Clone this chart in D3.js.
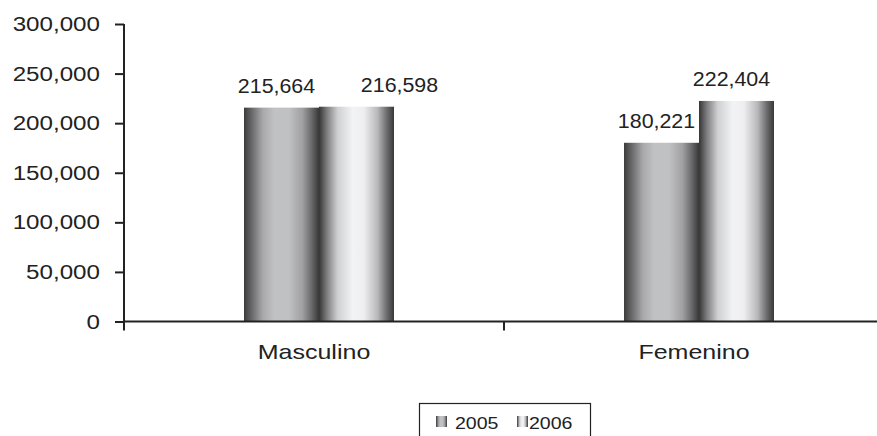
<!DOCTYPE html>
<html>
<head>
<meta charset="utf-8">
<script src="https://cdn.jsdelivr.net/npm/d3@7"></script>
<style>
  html, body { margin: 0; padding: 0; background: #fff; }
  svg { display: block; }
  text { font-family: "Liberation Sans", Arial, sans-serif; fill: #222; }
</style>
</head>
<body>
<svg id="chart" width="877" height="436"></svg>
<script>
// ---- data ----
const categories = ["Masculino", "Femenino"];
const series = ["2005", "2006"];
const values2005 = [215664, 180221];
const values2006 = [216598, 222404];
const yTicks = [0, 50000, 100000, 150000, 200000, 250000, 300000];

// ---- layout / style ----
const W = 877, H = 436;
const plot = { left: 124, right: 884, top: 24, bottom: 321.5 };
const groupWidth = 150, groupOffset = 120;
const labelDx = [[-5, 43], [-5, -5]]; // per category, per series label nudges
const axisColor = "#222";

const svg = d3.select("#chart");
const fmt = d3.format(",");

const y = d3.scaleLinear().domain([0, 300000]).range([plot.bottom, plot.top]);
const x0 = d3.scaleBand().domain(categories).range([plot.left, plot.right]).padding(0);
const x1 = d3.scaleBand().domain(series).range([0, groupWidth]).padding(0);

// gradients
const defs = svg.append("defs");
const gradStops = {
  "2005": [[0, "#3c3c3c"], [0.08, "#5e5e60"], [0.25, "#a8a8aa"], [0.4, "#c0c1c3"], [0.6, "#c0c1c3"], [0.78, "#a0a0a2"], [0.9, "#6a6a6c"], [1, "#383838"]],
  "2006": [[0, "#353535"], [0.1, "#7a7a7c"], [0.25, "#d0d0d2"], [0.45, "#f2f3f5"], [0.6, "#eeeef0"], [0.78, "#b8b8ba"], [0.9, "#6e6e70"], [1, "#383838"]]
};
series.forEach(s => {
  const g = defs.append("linearGradient").attr("id", "g" + s)
    .attr("x1", 0).attr("x2", 1).attr("y1", 0).attr("y2", 0);
  gradStops[s].forEach(([o, c]) => g.append("stop").attr("offset", o).attr("stop-color", c));
});

const data = categories.map((c, i) => ({
  cat: c, ci: i,
  vals: [{ s: "2005", v: values2005[i], si: 0 }, { s: "2006", v: values2006[i], si: 1 }]
}));

// bars
const groups = svg.append("g").selectAll("g").data(data).join("g")
  .attr("transform", d => `translate(${x0(d.cat) + groupOffset},0)`);

groups.selectAll("rect").data(d => d.vals.map(v => ({ ...v, ci: d.ci }))).join("rect")
  .attr("x", d => x1(d.s))
  .attr("y", d => y(d.v))
  .attr("width", x1.bandwidth())
  .attr("height", d => y(0) - y(d.v))
  .attr("fill", d => `url(#g${d.s})`);

// value labels
groups.selectAll("text.val").data(d => d.vals.map(v => ({ ...v, ci: d.ci }))).join("text")
  .attr("class", "val")
  .attr("text-anchor", "middle")
  .style("font-size", "20px")
  .attr("transform", d => `translate(${x1(d.s) + x1.bandwidth() / 2 + labelDx[d.ci][d.si]},${y(d.v) - 15}) scale(1.07,1)`)
  .text(d => fmt(d.v));

// y axis
const yAxis = d3.axisLeft(y).tickValues(yTicks).tickFormat(fmt).tickSize(9).tickSizeOuter(0);
const yg = svg.append("g").attr("transform", `translate(${plot.left},0)`).call(yAxis);
yg.select(".domain").remove();
yg.selectAll(".tick line").attr("stroke", axisColor).attr("stroke-width", 2);
yg.selectAll(".tick text")
  .attr("x", -24 / 1.24)
  .attr("dy", "0.34em")
  .attr("transform", "scale(1.24,1)")
  .style("font-size", "19.5px")
  .style("font-family", "'Liberation Sans', Arial, sans-serif")
  .attr("fill", "#222");
svg.append("line")
  .attr("x1", plot.left).attr("x2", plot.left)
  .attr("y1", y(300000)).attr("y2", y(0) + 9)
  .attr("stroke", axisColor).attr("stroke-width", 2);

// x axis
svg.append("line")
  .attr("x1", plot.left).attr("x2", W)
  .attr("y1", y(0)).attr("y2", y(0))
  .attr("stroke", axisColor).attr("stroke-width", 2);
svg.append("g").selectAll("line").data(categories.slice(1)).join("line")
  .attr("x1", d => x0(d)).attr("x2", d => x0(d))
  .attr("y1", y(0)).attr("y2", y(0) + 9)
  .attr("stroke", axisColor).attr("stroke-width", 2);
svg.append("g").selectAll("text").data(categories).join("text")
  .attr("text-anchor", "middle")
  .style("font-size", "20.5px")
  .attr("transform", d => `translate(${x0(d) + x0.bandwidth() / 2},359) scale(1.22,1)`)
  .text(d => d);

// legend
const leg = svg.append("g");
leg.append("rect").attr("x", 419.5).attr("y", 403.5).attr("width", 171).attr("height", 45)
  .attr("fill", "#fff").attr("stroke", axisColor).attr("stroke-width", 1.2);
const legPos = [{ sx: 436, tx: 455 }, { sx: 517, tx: 529 }];
series.forEach((s, i) => {
  leg.append("rect").attr("x", legPos[i].sx).attr("y", 416).attr("width", 11).attr("height", 11)
    .attr("fill", `url(#g${s})`);
  leg.append("text").attr("transform", `translate(${legPos[i].tx},429) scale(1.15,1)`)
    .style("font-size", "17px").text(s);
});
</script>
</body>
</html>
